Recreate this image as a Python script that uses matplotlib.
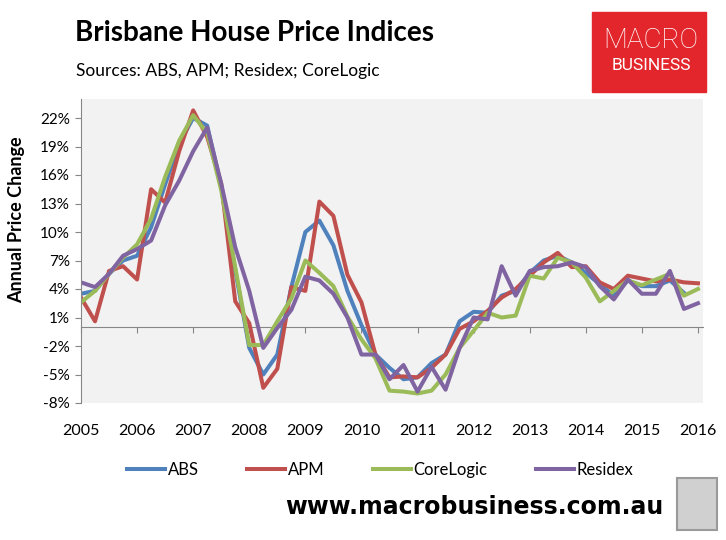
import matplotlib.pyplot as plt
from matplotlib.patches import Rectangle
from matplotlib.lines import Line2D

plt.rcParams['font.family'] = ['Lato', 'DejaVu Sans']

# quarterly annual % change, 2005 Q1 .. 2016 Q1
quarters = [2005 + q / 4 for q in range(45)]
years = list(range(2005, 2017))
y_ticks = list(range(-8, 23, 3))

abs_vals = [3.5, 3.8, 5.6, 7.0, 7.5, 10.5, 15.0, 19.3, 22.0, 21.2, 14.8, 6.0,
            -2.2, -5.0, -2.9, 4.2, 10.0, 11.2, 8.6, 3.8, 0.2, -2.9, -4.3, -5.5,
            -5.3, -3.8, -2.9, 0.6, 1.6, 1.5, 3.3, 3.8, 5.7, 7.0, 7.5, 6.8,
            5.7, 4.5, 3.3, 4.9, 4.3, 4.3, 4.9, 3.6]
apm_vals = [3.1, 0.6, 5.9, 6.4, 5.0, 14.5, 13.1, 18.5, 22.8, 20.0, 15.1, 2.7,
            0.4, -6.4, -4.4, 4.2, 3.8, 13.2, 11.7, 5.5, 2.6, -2.9, -5.3, -5.2,
            -5.3, -4.3, -2.9, -0.2, 0.6, 1.7, 3.1, 4.0, 5.4, 6.8, 7.8, 6.3,
            6.4, 4.7, 4.0, 5.4, 5.1, 4.8, 5.0, 4.7, 4.6]
corelogic_vals = [2.6, 3.8, 5.6, 7.3, 8.7, 11.4, 15.8, 19.6, 22.3, 20.4, 14.4, 6.3,
                  -1.9, -1.9, 0.6, 3.0, 7.0, 5.7, 4.3, 1.1, -1.3, -3.3, -6.7, -6.8,
                  -7.0, -6.7, -5.0, -2.2, -0.4, 1.5, 1.0, 1.2, 5.4, 5.1, 7.3, 6.8,
                  5.2, 2.7, 3.8, 4.9, 4.4, 5.0, 5.6, 3.3, 4.0]
residex_vals = [4.7, 4.2, 5.6, 7.5, 8.2, 9.1, 12.8, 15.4, 18.5, 21.0, 15.1, 8.4,
                3.8, -2.2, -0.1, 1.8, 5.3, 4.9, 3.5, 1.0, -2.9, -2.9, -5.5, -4.0,
                -6.8, -4.2, -6.6, -2.2, 1.0, 0.8, 6.4, 3.3, 5.9, 6.3, 6.4, 6.8,
                6.3, 4.3, 2.9, 5.0, 3.5, 3.5, 5.9, 1.9, 2.5]

series = [
    ('ABS', abs_vals, '#4F81BD'),
    ('APM', apm_vals, '#C0504D'),
    ('CoreLogic', corelogic_vals, '#9BBB59'),
    ('Residex', residex_vals, '#8064A2'),
]

W, H = 726, 540
fig = plt.figure(figsize=(W / 100, H / 100), dpi=100)

ax = fig.add_axes([81 / W, 137 / H, 622 / W, 304 / H])
ax.set_facecolor('#F2F2F2')
for name, vals, color in series:
    ax.plot(quarters[:len(vals)], vals, color=color, lw=2.9, label=name)

ax.set_xlim(2005, 2016.09)
ax.set_ylim(-8, 24)
ax.set_yticks(y_ticks)
ax.set_yticklabels([f'{v}%' for v in y_ticks], fontsize=11)
ax.set_xticks(years)
ax.set_xticklabels([str(y) for y in years], fontsize=11.5)
ax.tick_params(axis='x', length=0, pad=15)
ax.tick_params(axis='y', length=4, color='#868686', pad=4)
for side in ['top', 'right', 'bottom']:
    ax.spines[side].set_visible(False)
ax.spines['left'].set_color('#868686')

# category axis crossing at zero
zero_ax = ax.secondary_xaxis(8 / 32)
zero_ax.set_xticks(years)
zero_ax.set_xticklabels([])
zero_ax.tick_params(length=4, color='#868686')
zero_ax.spines['bottom'].set_color('#868686')

fig.text(17 / W, 1 - 220 / H, 'Annual Price Change', rotation=90,
         ha='center', va='center', fontsize=13, fontweight='bold')

fig.text(75 / W, 1 - 33 / H, 'Brisbane House Price Indices', fontsize=20,
         fontweight='bold', va='center')
fig.text(76 / W, 1 - 71 / H, 'Sources: ABS, APM; Residex; CoreLogic',
         fontsize=12.5, va='center')

# logo
fig.patches.append(Rectangle((592 / W, 1 - 92 / H), 114 / W, 80 / H,
                             transform=fig.transFigure, color='#E3262B'))
fig.text(651 / W, 1 - 40 / H, 'MACRO', color='white', fontsize=20,
         family='Roboto', fontweight='light', ha='center', va='center')
fig.text(651 / W, 1 - 66 / H, 'BUSINESS', color='white', fontsize=12.5,
         family='Roboto', ha='center', va='center')

handles = [Line2D([], [], color=c, lw=2.9) for _, _, c in series]
fig.legend(handles, [s[0] for s in series], loc='center',
           bbox_to_anchor=(380 / W, 1 - 470 / H), ncol=4, frameon=False,
           fontsize=12, handlelength=2.3, handletextpad=0.15, columnspacing=2.9)

fig.text(663 / W, 1 - 507 / H, 'www.macrobusiness.com.au', fontsize=17,
         fontweight='bold', family='DejaVu Sans', ha='right', va='center')
fig.patches.append(Rectangle((677 / W, 1 - 530 / H), 40 / W, 52 / H,
                             transform=fig.transFigure, facecolor='#D0D0D0',
                             edgecolor='#9A9A9A', lw=1.5))

fig.savefig('out.png', dpi=100)
